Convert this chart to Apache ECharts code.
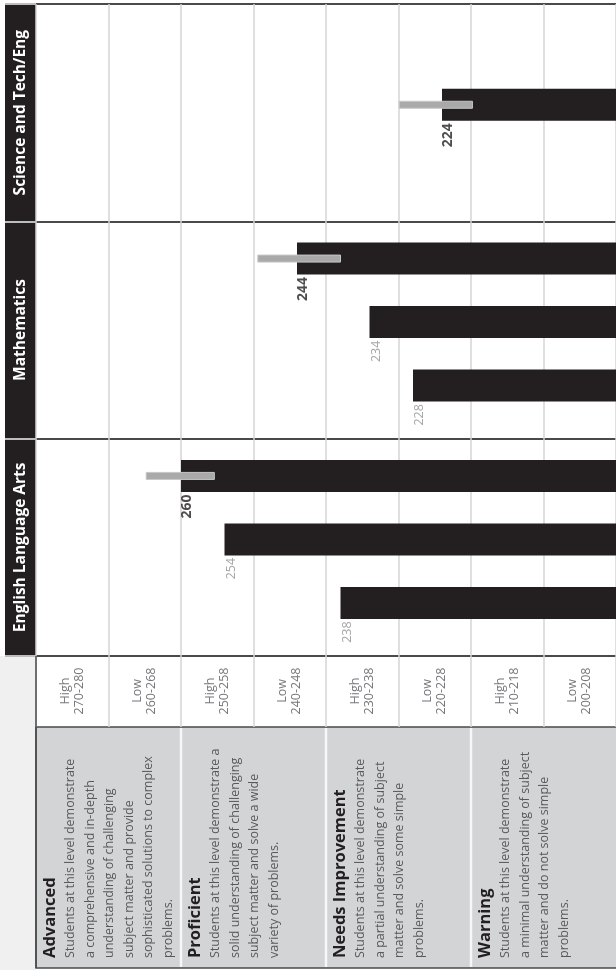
<!DOCTYPE html>
<html><head><meta charset="utf-8">
<script src="https://cdn.jsdelivr.net/npm/echarts@6/dist/echarts.min.js"></script>
<style>html,body{margin:0;padding:0;background:#fff}#c{width:616px;height:970px}</style>
</head><body><div id="c"></div>
<script>
// ---------- data ----------
const subjects = ['Science and Tech/Eng', 'Mathematics', 'English Language Arts']; // top to bottom
const slotNames = ['a', 'b', 'c'];
const scienceScores = [null, 224, null];
const mathScores = [244, 234, 228];
const elaScores = [260, 254, 238];
const scienceRange = [null, [219.8, 229.9], null];
const mathRange = [[238.0, 249.4], null, null];
const elaRange = [[255.4, 264.8], null, null];
const scaleMin = 200, scaleMax = 280, scaleStep = 10;
const rangeLabels = ['High\n270-280', 'Low\n260-268', 'High\n250-258', 'Low\n240-248',
                     'High\n230-238', 'Low\n220-228', 'High\n210-218', 'Low\n200-208'];
const levelNames = ['Advanced', 'Proficient', 'Needs Improvement', 'Warning'];
const levelTop = [280, 260, 240, 220];
const levelDescriptions = [
  ['Students at this level demonstrate', 'a comprehensive and in-depth', 'understanding of challenging', 'subject matter and provide', 'sophisticated solutions to complex', 'problems.'],
  ['Students at this level demonstrate a', 'solid understanding of challenging', 'subject matter and solve a wide', 'variety of problems.'],
  ['Students at this level demonstrate', 'a partial understanding of subject', 'matter and solve some simple', 'problems.'],
  ['Students at this level demonstrate', 'a minimal understanding of subject', 'matter and do not solve simple', 'problems.']
];

// ---------- build ----------
const FONT = 'Open Sans';
const subjectScores = [scienceScores, mathScores, elaScores];
const subjectRanges = [scienceRange, mathRange, elaRange];

const PLOT_TOP = 4, PLOT_H = 652, LEFT = 36, RIGHT = -3;
const bandH = PLOT_H / subjects.length;

const grids = [
  { left: LEFT, right: RIGHT, top: PLOT_TOP, height: PLOT_H },
  { left: LEFT, right: RIGHT, top: PLOT_TOP + PLOT_H, height: 71 }
];
const xAxes = [
  { type: 'value', gridIndex: 0, min: scaleMin, max: scaleMax, interval: scaleStep, inverse: true,
    axisLabel: { show: false }, axisLine: { show: false }, axisTick: { show: false },
    splitLine: { show: true, lineStyle: { color: '#d4d4d4', width: 1.5 } } },
  { type: 'category', gridIndex: 1, data: rangeLabels, position: 'top', boundaryGap: true,
    axisLine: { show: false }, axisTick: { show: false },
    splitLine: { show: true, interval: 0, lineStyle: { color: '#d4d4d4', width: 1.5 } },
    axisLabel: { interval: 0, inside: true, margin: 35, rotate: 90, align: 'center', verticalAlign: 'middle',
      padding: [12, 0, 0, 0],
      color: '#77787b', fontSize: 12.5, lineHeight: 14, fontFamily: FONT } }
];
const yAxes = [
  { type: 'category', gridIndex: 0, data: subjects, inverse: true, position: 'left', boundaryGap: true,
    axisLine: { show: false },
    axisTick: { show: true, length: 31, lineStyle: { color: '#bdbdbd', width: 2 } },
    splitLine: { show: true, interval: 0, lineStyle: { color: '#4a4a4a', width: 2 } },
    axisLabel: { interval: 0, rotate: 90, margin: 15, align: 'center', verticalAlign: 'middle',
      color: '#ffffff', fontWeight: 'bold', fontSize: 15.5, fontFamily: FONT } },
  { type: 'value', gridIndex: 1, show: false }
];
const series = [];

subjects.forEach((s, i) => {
  const g = grids.length;
  grids.push({ left: LEFT, right: RIGHT, top: PLOT_TOP + i * bandH + 5.5, height: 190.5 });
  const xi = xAxes.length, yi = yAxes.length;
  xAxes.push({ type: 'value', gridIndex: g, min: scaleMin, max: scaleMax, interval: scaleStep, inverse: true, show: false });
  yAxes.push({ type: 'category', gridIndex: g, data: slotNames, inverse: true, show: false });

  const scores = subjectScores[i], ranges = subjectRanges[i];
  const barData = scores.map(v => (v == null ? '-' : v));
  const errData = [];
  ranges.forEach((r, k) => { if (r) errData.push([r[0], r[1], k]); });
  const labelData = [];
  scores.forEach((v, k) => {
    if (v == null) return;
    const main = !!ranges[k];
    labelData.push({
      value: [v, slotNames[k]],
      label: main ? { fontWeight: 'bold', color: '#231f20', fontSize: 14 }
                  : { fontWeight: 'normal', color: '#8f8f8f', fontSize: 12.5 }
    });
  });

  series.push(
    { name: s, type: 'bar', xAxisIndex: xi, yAxisIndex: yi, data: barData, barWidth: 32, clip: true,
      itemStyle: { color: '#231f20' }, z: 3 },
    { name: s + ' range', type: 'custom', xAxisIndex: xi, yAxisIndex: yi, data: errData, encode: { x: [0, 1], y: 2 }, z: 4,
      renderItem: function (params, api) {
        const lo = api.value(0), hi = api.value(1), c = api.value(2);
        const p1 = api.coord([lo, c]), p2 = api.coord([hi, c]);
        const h = 7;
        return { type: 'rect',
          shape: { x: Math.min(p1[0], p2[0]), y: p1[1] - h / 2, width: Math.abs(p2[0] - p1[0]), height: h },
          style: { fill: '#a9a9a9', stroke: '#c6c6c6', lineWidth: 1 } };
      } },
    { name: s + ' labels', type: 'scatter', xAxisIndex: xi, yAxisIndex: yi, data: labelData, symbolSize: 1, z: 5,
      itemStyle: { color: 'rgba(0,0,0,0)' },
      label: { show: true, formatter: p => p.value[0], position: [7, 19], rotate: 90,
        align: 'right', verticalAlign: 'middle', fontFamily: FONT } }
  );
});

const chart = echarts.init(document.getElementById('c'), null, { renderer: 'canvas' });
chart.setOption({
  animation: false,
  backgroundColor: '#ffffff',
  textStyle: { fontFamily: FONT },
  grid: grids, xAxis: xAxes, yAxis: yAxes, series: series
});

// ---------- decorative table parts ----------
const xOf = v => chart.convertToPixel({ xAxisIndex: 0 }, v);
const graphics = [
  { type: 'rect', z: -1, shape: { x: 5, y: 4, width: 31, height: 652 }, style: { fill: '#231f20' } },
  { type: 'rect', z: -1, shape: { x: 0, y: 656, width: 36, height: 314 }, style: { fill: '#f0f0f0' } },
  { type: 'rect', z: -1, shape: { x: 36, y: 727, width: 600, height: 241 }, style: { fill: '#d3d4d6', stroke: '#4a4a4a', lineWidth: 1.5 } },
  { type: 'line', z: 10, shape: { x1: 36, y1: 656, x2: 36, y2: 968 }, style: { stroke: '#4a4a4a', lineWidth: 1.5 } }
];
[260, 240, 220].forEach(v => {
  const x = xOf(v);
  graphics.push({ type: 'line', z: 1, shape: { x1: x, y1: 728, x2: x, y2: 967 }, style: { stroke: '#f7f7f7', lineWidth: 2.5 } });
});
levelNames.forEach((name, i) => {
  const x0 = xOf(levelTop[i]) + 4;
  const text = '{t|' + name + '}\n' + levelDescriptions[i].map(l => '{b|' + l + '}').join('\n');
  graphics.push({ type: 'text', z: 5, x: x0, y: 958, rotation: Math.PI / 2,
    style: { text: text, align: 'left', verticalAlign: 'top',
      rich: {
        t: { fontSize: 16.5, fontWeight: 'bold', fill: '#231f20', lineHeight: 21, fontFamily: FONT },
        b: { fontSize: 12.5, fontWeight: 'normal', fill: '#58595b', lineHeight: 19.5, fontFamily: FONT }
      } } });
});
chart.setOption({ graphic: graphics });
</script></body></html>
